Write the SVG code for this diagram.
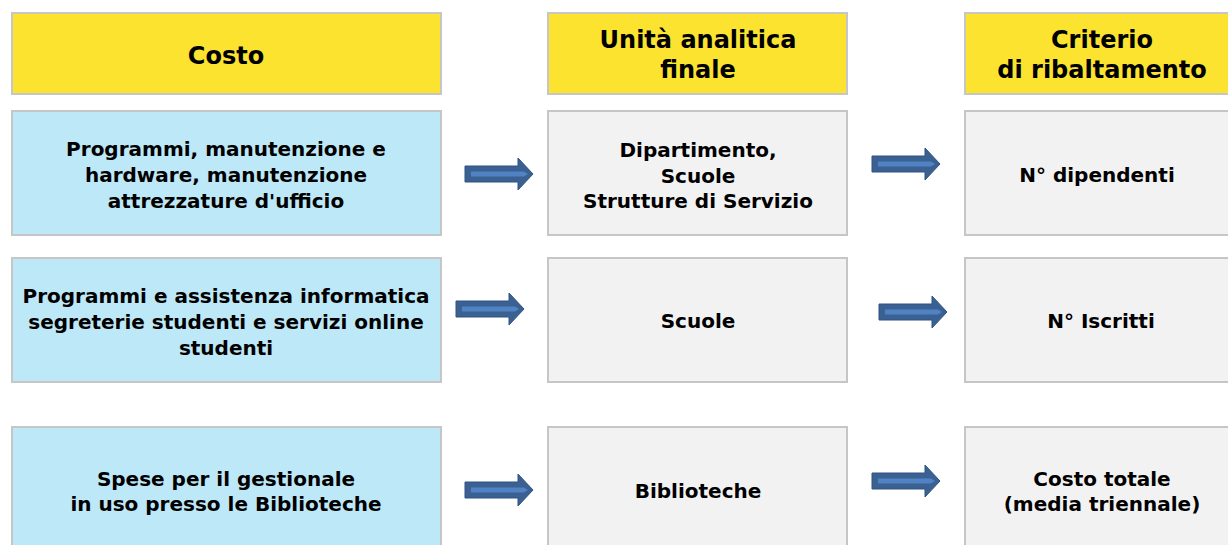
<svg xmlns="http://www.w3.org/2000/svg" xmlns:xlink="http://www.w3.org/1999/xlink" width="1228" height="545" viewBox="0 0 1228 545">
<style>
.box{stroke:#c6c6c6;stroke-width:2}
.hdr{fill:#fbe32f}
.blue{fill:#bde8f7}
.gray{fill:#f2f2f2}
text{font-family:"DejaVu Sans",Verdana,sans-serif;font-weight:bold;fill:#000;text-anchor:middle}
.h{font-size:24px}
.b{font-size:20px}
</style>
<defs>
<g id="arrow">
<path d="M0,-8 H53 V-16 L68,0 L53,16 V8 H0 Z" fill="#3b6193" stroke="#2e5282" stroke-width="1"/>
<path d="M6,-2.5 H59 L63,0 L59,2.5 H6 Z" fill="#5082c4"/>
</g>
</defs>
<rect width="1228" height="545" fill="#ffffff"/>
<g id="hdr-costo">
<rect class="box hdr" x="12" y="13" width="429" height="81"/>
<text class="h" x="226" y="64">Costo</text>
</g>
<g id="hdr-unita">
<rect class="box hdr" x="548" y="13" width="299" height="81"/>
<text class="h" x="698" y="48">Unità analitica</text>
<text class="h" x="698" y="78">finale</text>
</g>
<g id="hdr-criterio">
<rect class="box hdr" x="965" y="13" width="290" height="81"/>
<text class="h" x="1102" y="48">Criterio</text>
<text class="h" x="1102" y="78">di ribaltamento</text>
</g>
<g id="costo-1">
<rect class="box blue" x="12" y="111" width="429" height="124"/>
<text class="b" x="226" y="156">Programmi, manutenzione e</text>
<text class="b" x="226" y="182">hardware, manutenzione</text>
<text class="b" x="226" y="208">attrezzature d'ufficio</text>
</g>
<g id="unita-1">
<rect class="box gray" x="548" y="111" width="299" height="124"/>
<text class="b" x="698" y="157">Dipartimento,</text>
<text class="b" x="698" y="183">Scuole</text>
<text class="b" x="698" y="208">Strutture di Servizio</text>
</g>
<g id="criterio-1">
<rect class="box gray" x="965" y="111" width="290" height="124"/>
<text class="b" x="1097" y="182">N° dipendenti</text>
</g>
<g id="costo-2">
<rect class="box blue" x="12" y="258" width="429" height="124"/>
<text class="b" x="226" y="303">Programmi e assistenza informatica</text>
<text class="b" x="226" y="329">segreterie studenti e servizi online</text>
<text class="b" x="226" y="355">studenti</text>
</g>
<g id="unita-2">
<rect class="box gray" x="548" y="258" width="299" height="124"/>
<text class="b" x="698" y="328">Scuole</text>
</g>
<g id="criterio-2">
<rect class="box gray" x="965" y="258" width="290" height="124"/>
<text class="b" x="1101" y="328">N° Iscritti</text>
</g>
<g id="costo-3">
<rect class="box blue" x="12" y="427" width="429" height="130"/>
<text class="b" x="226" y="486">Spese per il gestionale</text>
<text class="b" x="226" y="511">in uso presso le Biblioteche</text>
</g>
<g id="unita-3">
<rect class="box gray" x="548" y="427" width="299" height="130"/>
<text class="b" x="698" y="498">Biblioteche</text>
</g>
<g id="criterio-3">
<rect class="box gray" x="965" y="427" width="290" height="130"/>
<text class="b" x="1102" y="486">Costo totale</text>
<text class="b" x="1102" y="511">(media triennale)</text>
</g>
<g id="connectors">
<use xlink:href="#arrow" href="#arrow" x="465" y="174"/>
<use xlink:href="#arrow" href="#arrow" x="872" y="164"/>
<use xlink:href="#arrow" href="#arrow" x="456" y="309"/>
<use xlink:href="#arrow" href="#arrow" x="879" y="312"/>
<use xlink:href="#arrow" href="#arrow" x="465" y="490"/>
<use xlink:href="#arrow" href="#arrow" x="872" y="481"/>
</g>
</svg>
